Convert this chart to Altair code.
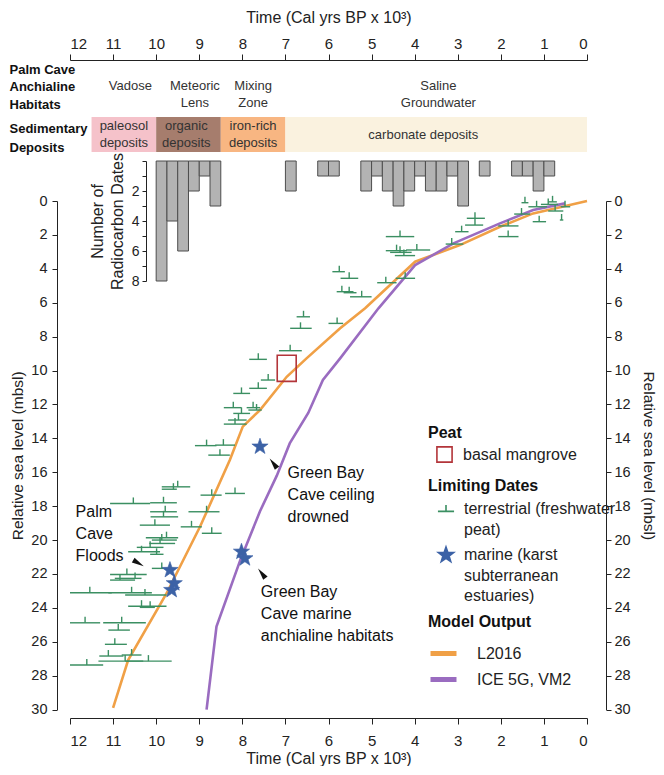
import altair as alt
import pandas as pd

# ------------------------------------------------------------------ data
x_tick_values = [v / 2 for v in range(0, 25)]          # major + minor ticks (ka)
depth_tick_values = list(range(0, 31, 2))
count_tick_values = list(range(0, 9))

# radiocarbon-date histogram (0.25 ka bins)
hist_bin_old = [10.0, 9.75, 9.5, 9.25, 9.0, 8.75, 7.0, 6.25, 6.0, 5.25, 5.0, 4.75,
                4.5, 4.25, 4.0, 3.75, 3.5, 3.25, 3.0, 2.5, 1.75, 1.5, 1.25, 1.0]
hist_bin_young = [9.75, 9.5, 9.25, 9.0, 8.75, 8.5, 6.75, 6.0, 5.75, 5.0, 4.75, 4.5,
                  4.25, 4.0, 3.75, 3.5, 3.25, 3.0, 2.75, 2.25, 1.5, 1.25, 1.0, 0.75]
hist_count = [8, 4, 6, 2, 1, 3, 2, 1, 1, 2, 1, 2, 3, 2, 1, 2, 2, 1, 3, 1, 1, 1, 2, 1]

habitat_names = ["Vadose", "Meteoric\nLens", "Mixing\nZone", "Saline\nGroundwater"]
habitat_age = [10.6, 9.1, 7.75, 3.45]

deposit_names = ["paleosol\ndeposits", "organic\ndeposits", "iron-rich\ndeposits", "carbonate deposits"]
deposit_old = [11.5, 10.0, 8.5, 7.0]
deposit_young = [10.0, 8.5, 7.0, 0.0]
deposit_label_age = [10.75, 9.3, 7.75, 3.8]

# terrestrial (freshwater peat) limiting dates
terr_age = [1.44, 0.80, 1.17, 0.90, 1.52, 0.74, 0.59, 1.11, 0.51, 2.60, 2.60, 1.83, 1.83,
            2.91, 3.14, 4.34, 4.42, 4.34, 3.95, 4.25, 5.75, 5.52, 4.67, 4.22, 5.69, 5.52,
            5.23, 6.58, 6.65, 5.80, 6.89, 7.63, 7.40, 7.63, 8.02, 8.21, 7.75, 7.67, 8.02,
            8.09, 8.17, 8.83, 8.44, 8.52, 9.50, 9.60, 8.71, 8.17, 10.53, 9.83, 9.79, 8.83,
            9.83, 10.03, 9.18, 8.71, 9.76, 9.87, 9.91, 10.14, 10.34, 9.99, 9.87, 10.68,
            10.49, 10.84, 11.54, 10.57, 10.26, 10.34, 10.14, 11.65, 10.80, 10.88, 10.96,
            11.11, 10.57, 10.72, 10.18, 11.61]
terr_young = [1.36, 0.70, 0.93, 0.67, 1.32, 0.55, 0.55, 0.95, 0.39, 2.37, 2.41, 1.59, 1.59,
              2.75, 2.87, 4.01, 4.18, 4.07, 3.64, 3.99, 5.62, 5.31, 4.42, 3.99, 5.42, 5.35,
              5.00, 6.43, 6.39, 5.66, 6.62, 7.43, 7.24, 7.43, 7.82, 8.02, 7.59, 7.55, 7.82,
              7.90, 7.90, 8.60, 8.17, 8.29, 9.21, 9.52, 8.48, 7.94, 10.14, 9.52, 9.52, 8.53,
              9.49, 9.68, 8.94, 8.48, 9.49, 9.52, 9.56, 9.83, 9.91, 9.83, 9.60, 10.22,
              10.34, 10.49, 11.03, 10.10, 9.76, 9.76, 10.03, 11.30, 10.24, 10.61, 10.68,
              10.76, 10.34, 10.30, 9.64, 11.23]
terr_old = [1.52, 0.90, 1.36, 1.07, 1.69, 0.90, 0.63, 1.26, 0.61, 2.79, 2.83, 2.06, 2.06,
            3.06, 3.28, 4.67, 4.67, 4.57, 4.20, 4.46, 5.91, 5.72, 4.87, 4.44, 5.81, 5.65,
            5.50, 6.74, 6.89, 6.00, 7.15, 7.84, 7.57, 7.84, 8.21, 8.43, 7.90, 7.86, 8.21,
            8.33, 8.43, 9.10, 8.63, 8.79, 9.87, 9.87, 8.97, 8.40, 11.07, 10.14, 10.14, 9.25,
            10.13, 10.38, 9.43, 8.94, 10.24, 10.10, 10.16, 10.45, 10.65, 10.14, 10.10, 11.07,
            10.96, 11.07, 12.00, 11.11, 10.72, 10.65, 10.38, 12.00, 11.23, 11.11, 11.19,
            11.32, 10.80, 11.34, 10.72, 12.00]
terr_depth = [0.10, 0.05, 0.34, 0.20, 0.77, 0.59, 1.12, 1.22, 0.34, 1.02, 1.42, 1.47, 2.10,
              1.81, 2.54, 2.10, 2.93, 3.03, 2.89, 3.22, 4.17, 4.56, 4.82, 4.56, 5.35, 5.41,
              5.65, 6.83, 7.51, 7.22, 8.83, 9.34, 10.56, 11.05, 11.35, 12.19, 12.19, 12.33,
              12.53, 12.92, 13.16, 14.43, 14.40, 14.99, 16.86, 17.00, 17.35, 17.25, 17.84,
              17.80, 18.33, 18.33, 18.63, 19.12, 19.22, 19.60, 19.86, 20.00, 20.20, 20.43,
              20.69, 20.84, 21.67, 22.03, 22.26, 22.36, 23.11, 23.11, 23.24, 23.90, 23.97,
              24.88, 24.88, 25.31, 26.15, 26.84, 26.78, 27.14, 27.14, 27.37]

# marine limiting dates (karst subterranean estuaries)
star_age = [7.59, 8.02, 7.94, 9.68, 9.58, 9.64]
star_depth = [14.49, 20.69, 21.08, 21.77, 22.55, 22.95]

# basal mangrove peat
peat_old = [7.19]
peat_young = [6.75]
peat_top = [9.10]
peat_bottom = [10.64]

# model output
model_names = ["L2016", "ICE 5G, VM2"]
l2016_age = [11.0, 10.65, 9.76, 8.98, 8.29, 7.99, 7.59, 6.97, 6.51, 5.73, 5.15, 3.99, 2.95, 2.02, 1.25, 0.0]
l2016_depth = [29.9, 27.08, 23.15, 19.2, 15.28, 13.31, 12.33, 10.37, 9.28, 7.51, 6.33, 3.58, 2.6, 1.52, 0.73, 0.0]
ice5g_age = [8.83, 8.6, 8.05, 7.59, 7.2, 6.9, 6.47, 6.13, 5.73, 4.84, 3.99, 3.1, 2.02, 1.25, 0.51]
ice5g_depth = [30.0, 25.1, 21.2, 18.3, 16.2, 14.3, 12.5, 10.56, 9.28, 6.33, 3.78, 2.5, 1.32, 0.53, 0.14]

# annotations (anchor = first text line)
ann_text = ["Green Bay\nCave ceiling\ndrowned", "Green Bay\nCave marine\nanchialine habitats", "Palm\nCave\nFloods"]
ann_age = [6.95, 7.57, 11.87]
ann_depth = [16.05, 23.05, 18.33]
arrow_age = [7.28, 7.55, 10.41]
arrow_depth = [15.47, 21.96, 21.37]
arrow_angle = [323, 323, 120]

TERR_LABEL = "terrestrial (freshwater|peat)"
MARINE_LABEL = "marine (karst|subterranean|estuaries)"

# ------------------------------------------------------------------ styles
SANS = "Liberation Sans, Arial, Helvetica, sans-serif"
NARROW = "Liberation Sans Narrow, Arial Narrow, Liberation Sans, sans-serif"
GREEN = "#3b8f62"
BLUE = "#3c62a6"
ORANGE = "#f0a046"
PURPLE = "#9a6cc0"
PEAT_RED = "#b3353a"
DEPOSIT_COLORS = ["#f5c2ca", "#a67d6d", "#f8b682", "#faf2df"]
STAR_PATH = ("M0,-1L0.235,-0.324L0.951,-0.309L0.38,0.124L0.588,0.809L0,0.4"
             "L-0.588,0.809L-0.38,0.124L-0.951,-0.309L-0.235,-0.324Z")
TERR_PATH = "M-1,0.3L1,0.3M0,0.3L0,-0.5"
ARROW_PATH = "M0,-1L0.45,1L-0.45,1Z"

# ------------------------------------------------------------------ frames
hist_df = pd.DataFrame({"old": hist_bin_old, "young": hist_bin_young, "count": hist_count})
hab_df = pd.DataFrame({"row": "habitats", "name": habitat_names, "age": habitat_age})
dep_df = pd.DataFrame({"row": "deposits", "name": deposit_names, "old": deposit_old,
                       "young": deposit_young, "label_age": deposit_label_age})
terr_df = pd.DataFrame({"age": terr_age, "young": terr_young, "old": terr_old, "depth": terr_depth})
star_df = pd.DataFrame({"age": star_age, "depth": star_depth, "kind": MARINE_LABEL})
peat_df = pd.DataFrame({"old": peat_old, "young": peat_young, "top": peat_top,
                        "bottom": peat_bottom, "kind": "basal mangrove"})
model_df = pd.concat([
    pd.DataFrame({"model": model_names[0], "age": l2016_age, "depth": l2016_depth}),
    pd.DataFrame({"model": model_names[1], "age": ice5g_age, "depth": ice5g_depth}),
])
ann_df = pd.DataFrame({"text": ann_text, "age": ann_age, "depth": ann_depth})
arrow_df = pd.DataFrame({"age": arrow_age, "depth": arrow_depth, "angle": arrow_angle})

# ------------------------------------------------------------------ scales
x_scale = alt.Scale(domain=[12, 0], range=[13, 530], nice=False, zero=False)
depth_scale = alt.Scale(domain=[0, 30], range=[141, 649.6], nice=False, zero=False)
count_scale = alt.Scale(domain=[0, 8], range=[101, 221], nice=False, zero=False)
dep_row_scale = alt.Scale(domain=["deposits"], range=[57, 92], paddingInner=0, paddingOuter=0)
hab_row_scale = alt.Scale(domain=["habitats"], range=[10, 44], paddingInner=0, paddingOuter=0)

TICK_COND = {"condition": {"test": "datum.value % 1 != 0", "value": 3}, "value": 6}
XLAB = "datum.value % 1 == 0 ? datum.label : ''"
TIME_TITLE = "Time (Cal yrs BP x 10³)"

top_axis = alt.Axis(orient="top", values=x_tick_values, format="d", labelExpr=XLAB,
                    tickSize=TICK_COND, labelFont=NARROW, labelFontSize=15, labelPadding=3,
                    title=TIME_TITLE, titleFont=NARROW, titleFontSize=16, titleFontWeight="normal",
                    titleY=-43, titleBaseline="middle")
bottom_axis = alt.Axis(orient="bottom", values=x_tick_values, format="d", labelExpr=XLAB,
                       tickSize=TICK_COND, labelFont=NARROW, labelFontSize=15, labelPadding=9,
                       title=TIME_TITLE, titleFont=NARROW, titleFontSize=16,
                       titleFontWeight="normal", titleY=40, titleBaseline="middle")
left_axis = alt.Axis(orient="left", values=depth_tick_values, tickSize=5, labelPadding=5,
                     labelFontSize=14.5, title="Relative sea level (mbsl)", titleFontSize=15.5,
                     titleFontWeight="normal", titleX=-40, titleBaseline="middle")
right_axis = alt.Axis(orient="right", values=depth_tick_values, tickSize=5, labelPadding=3,
                      labelFontSize=14.5, title="Relative sea level (mbsl)", titleFontSize=15.5,
                      titleFontWeight="normal", titleAngle=90, titleX=42, titleBaseline="middle")
hist_axis = alt.Axis(orient="left", offset=-89, values=count_tick_values,
                     labelExpr="datum.value % 2 == 0 && datum.value > 0 ? datum.label : ''",
                     tickSize=4, labelPadding=3, labelFontSize=14,
                     title=["Number of", "Radiocarbon Dates"], titleFontSize=16,
                     titleFontWeight="normal", titleLineHeight=20, titleX=-49,
                     titleBaseline="middle", titleAngle=270)


def row_axis(lines, first_line_y, line_height):
    # the row name is drawn as the (multi-line) title of a label-less axis
    return alt.Axis(orient="left", domain=False, ticks=False, labels=False, title=lines,
                    titleAngle=0, titleAlign="left", titleBaseline="middle", titleX=-48,
                    titleY=first_line_y, titleLineHeight=line_height, titleFont=NARROW,
                    titleFontWeight="bold", titleFontSize=13, titleColor="#111")


LEG = dict(orient="none", padding=0, titleFont=SANS, titleFontSize=16, titleFontWeight="bold",
           titleColor="#111", labelFont=SANS, labelFontSize=16, labelColor="#222",
           labelLimit=300, titleLimit=300)
peat_legend = alt.Legend(title="Peat", legendX=371, legendY=365, symbolType="square",
                         symbolSize=230, symbolStrokeWidth=1.6, symbolFillColor="white",
                         symbolOffset=8, labelOffset=10, titlePadding=5, **LEG)
lim_legend = alt.Legend(title="Limiting Dates", legendX=371, legendY=418, symbolSize=260,
                        symbolStrokeWidth=1.6, symbolOffset=9, labelOffset=9, titlePadding=6,
                        rowPadding=5, labelExpr="split(datum.label, '|')", **LEG)
model_legend = alt.Legend(title="Model Output", legendX=371, legendY=554, symbolType="stroke",
                          symbolStrokeWidth=5, symbolSize=676, labelOffset=18, titlePadding=8,
                          rowPadding=0, **LEG)


def X(field, axis=None):
    return alt.X(field, type="quantitative", scale=x_scale, axis=axis)


def YD(field, axis=None):
    return alt.Y(field, type="quantitative", scale=depth_scale, axis=axis)


# ------------------------------------------------------------------ layers
dep_rects = alt.Chart(dep_df).mark_rect().encode(
    x=X("old", top_axis), x2="young",
    y=alt.Y("row:N", scale=dep_row_scale, axis=row_axis(["Sedimentary", "Deposits"], 68, 19)),
    color=alt.Color("name:N", scale=alt.Scale(domain=deposit_names, range=DEPOSIT_COLORS), legend=None),
)
dep_text_two = alt.Chart(dep_df).transform_filter("indexof(datum.name, '\\n') >= 0").mark_text(
    font=NARROW, fontSize=13, lineBreak="\n", lineHeight=17, yOffset=-8.5, color="#333").encode(
    x=X("label_age"), y=alt.Y("row:N", scale=dep_row_scale, axis=None), text="name:N")
dep_text_one = alt.Chart(dep_df).transform_filter("indexof(datum.name, '\\n') < 0").mark_text(
    font=NARROW, fontSize=13, color="#333").encode(
    x=X("label_age"), y=alt.Y("row:N", scale=dep_row_scale, axis=None), text="name:N")
hab_text = alt.Chart(hab_df).mark_text(font=NARROW, fontSize=13, lineBreak="\n", lineHeight=16.5,
                                       baseline="top", yOffset=-7, color="#333").encode(
    x=X("age"),
    y=alt.Y("row:N", scale=hab_row_scale,
            axis=row_axis(["Palm Cave", "Anchialine", "Habitats"], 9, 17.5)),
    text="name:N")
hist = alt.Chart(hist_df).mark_rect(fill="#b3b3b3", stroke="#4d4d4d", strokeWidth=1).encode(
    x=X("old"), x2="young",
    y=alt.Y("count:Q", scale=count_scale, axis=hist_axis), y2=alt.datum(0))
lines = alt.Chart(model_df).mark_line(strokeWidth=2.6).encode(
    x=X("age", bottom_axis), y=YD("depth", left_axis),
    color=alt.Color("model:N", scale=alt.Scale(domain=model_names, range=[ORANGE, PURPLE]),
                    legend=model_legend))
terr_rules = alt.Chart(terr_df).mark_rule(color=GREEN, strokeWidth=1.4).encode(
    x=X("old"), x2="young", y=YD("depth", right_axis))
terr_ticks = alt.Chart(terr_df).mark_tick(orient="vertical", color=GREEN, size=6, thickness=1.4,
                                          yOffset=-3, opacity=1).encode(
    x=X("age"), y=YD("depth"))
peat = alt.Chart(peat_df).mark_rect(filled=False, strokeWidth=1.6).encode(
    x=X("old"), x2="young", y=YD("top"), y2="bottom",
    color=alt.Color("kind:N", scale=alt.Scale(domain=["basal mangrove"], range=[PEAT_RED]),
                    legend=peat_legend))
kind_domain = [TERR_LABEL, MARINE_LABEL]
stars = alt.Chart(star_df).mark_point(filled=True, size=290, strokeWidth=0.6, opacity=1).encode(
    x=X("age"), y=YD("depth"),
    shape=alt.Shape("kind:N", scale=alt.Scale(domain=kind_domain, range=[TERR_PATH, STAR_PATH]),
                    legend=lim_legend),
    fill=alt.Fill("kind:N", scale=alt.Scale(domain=kind_domain, range=[GREEN, BLUE]), legend=lim_legend),
    stroke=alt.Stroke("kind:N", scale=alt.Scale(domain=kind_domain, range=[GREEN, BLUE]),
                      legend=lim_legend))
arrows = alt.Chart(arrow_df).mark_point(shape=ARROW_PATH, filled=True, color="#111", size=150,
                                        opacity=1).encode(
    x=X("age"), y=YD("depth"), angle=alt.Angle("angle:Q", scale=None))
ann = alt.Chart(ann_df).mark_text(align="left", baseline="middle", lineBreak="\n", lineHeight=22,
                                  fontSize=16, font=SANS, color="#111").encode(
    x=X("age"), y=YD("depth"), text="text:N")

chart = alt.layer(
    dep_rects, dep_text_two, dep_text_one, hab_text, hist, lines, terr_rules, terr_ticks, peat,
    stars, arrows, ann
).resolve_scale(
    x="independent", y="independent", color="independent"
).properties(
    width=549, height=658,
    autosize=alt.AutoSizeParams(type="none"),
    padding={"left": 49, "top": 52, "right": 50, "bottom": 48},
).configure(
    style={"guide-label": {"lineHeight": 20.5}}
).configure_view(stroke=None).configure_axis(
    grid=False, domainColor="#222", tickColor="#222", labelColor="#222", titleColor="#222",
    labelFont=SANS, titleFont=SANS,
)

chart.save("out.html", embed_options={"renderer": "svg", "actions": False})
